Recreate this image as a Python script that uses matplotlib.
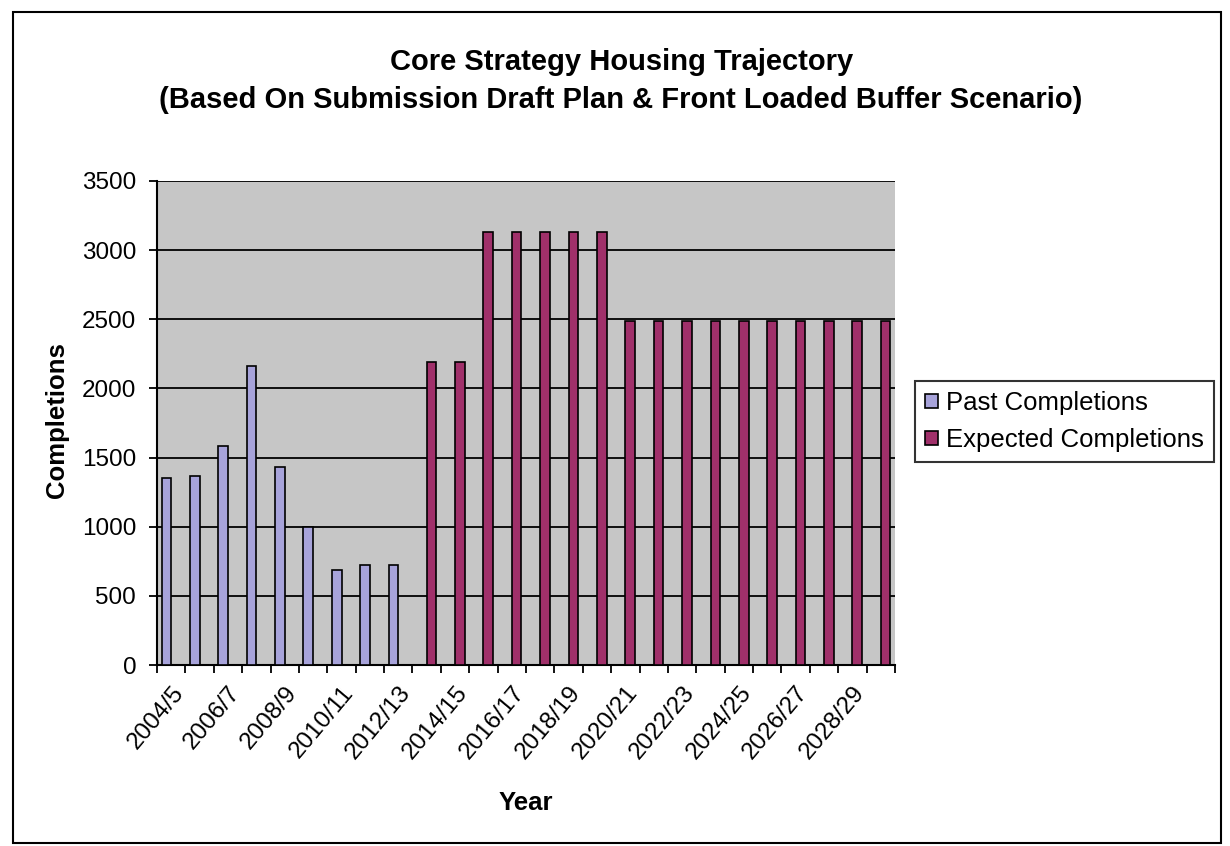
import numpy as np
import matplotlib
matplotlib.use("Agg")
import matplotlib.pyplot as plt
from matplotlib.patches import Rectangle

# --- Data ---
YEARS = ["2004/5", "2005/6", "2006/7", "2007/8", "2008/9", "2009/10", "2010/11",
         "2011/12", "2012/13", "2013/14", "2014/15", "2015/16", "2016/17",
         "2017/18", "2018/19", "2019/20", "2020/21", "2021/22", "2022/23",
         "2023/24", "2024/25", "2025/26", "2026/27", "2027/28", "2028/29",
         "2029/30"]
PAST = [1350, 1365, 1585, 2165, 1435, 995, 690, 720, 720]
EXPECTED = [2190, 2190, 3130, 3130, 3130, 3130, 3130,
            2490, 2490, 2490, 2490, 2490, 2490, 2490, 2490, 2490, 2490]
Y_TICKS = [0, 500, 1000, 1500, 2000, 2500, 3000, 3500]

TITLE = ("Core Strategy Housing Trajectory\n"
         "(Based On Submission Draft Plan & Front Loaded Buffer Scenario)")

PAST_COLOR = "#a7a3da"
EXP_COLOR = "#a0306a"
PLOT_BG = "#c6c6c6"

plt.rcParams["font.family"] = ["Liberation Sans", "DejaVu Sans"]

W, H = 1230, 846
fig = plt.figure(figsize=(W / 100, H / 100), dpi=100)

# plot area in pixel coordinates of the reference
left, right, top, bottom = 157, 895, 181, 665
ax = fig.add_axes([left / W, 1 - bottom / H, (right - left) / W, (bottom - top) / H])
ax.set_facecolor(PLOT_BG)

x = np.arange(len(YEARS))
n_past = len(PAST)
bw = 0.34
ax.bar(x[:n_past] - bw / 2, PAST, width=bw, color=PAST_COLOR,
       edgecolor="black", linewidth=1.2, label="Past Completions", zorder=3)
ax.bar(x[n_past:] + bw / 2, EXPECTED, width=bw, color=EXP_COLOR,
       edgecolor="black", linewidth=1.2, label="Expected Completions", zorder=3)

ax.set_xlim(-0.5, len(YEARS) - 0.5)
ax.set_ylim(0, 3500)
ax.set_yticks(Y_TICKS)
ax.yaxis.grid(True, color="black", linewidth=1.3, zorder=1)
ax.set_axisbelow(True)
ax.tick_params(axis="y", direction="out", length=6, width=1.3,
               labelsize=17.5, pad=9)

ax.set_xticks(x[::2])
ax.set_xticklabels(YEARS[::2], rotation=50, ha="right",
                   rotation_mode="anchor", fontsize=17.5)
ax.set_xticks(np.arange(-0.5, len(YEARS)), minor=True)
ax.tick_params(axis="x", which="major", length=0, pad=12)
ax.tick_params(axis="x", which="minor", direction="out", length=6, width=1.3)

for side in ["top", "right"]:
    ax.spines[side].set_visible(False)
for side in ["left", "bottom"]:
    ax.spines[side].set_linewidth(1.5)

fig.text(57 / W, 1 - 420 / H, "Completions", rotation=90, ha="center",
         va="center", fontsize=18.5, fontweight="bold")
fig.text(526 / W, 1 - 803 / H, "Year", ha="center", va="center",
         fontsize=18.5, fontweight="bold")

fig.text(0.505, 1 - 81 / H, TITLE, ha="center", va="center",
         fontsize=21, fontweight="bold", linespacing=1.5)

leg = ax.legend(loc="upper left", bbox_to_anchor=(915 / W, 1 - 381 / H),
                bbox_transform=fig.transFigure, borderaxespad=0,
                fontsize=18.5, frameon=True, fancybox=False,
                edgecolor="black", handlelength=0.5, handleheight=0.5,
                handletextpad=0.3, borderpad=0.4, labelspacing=0.5)
leg.get_frame().set_linewidth(1.5)

# chart area border
fig.patches.append(Rectangle((13 / W, 1 - 843 / H), 1208 / W, 831 / H,
                             transform=fig.transFigure, fill=False,
                             edgecolor="black", linewidth=1.5))

fig.savefig("out.png", dpi=100, facecolor="white")
